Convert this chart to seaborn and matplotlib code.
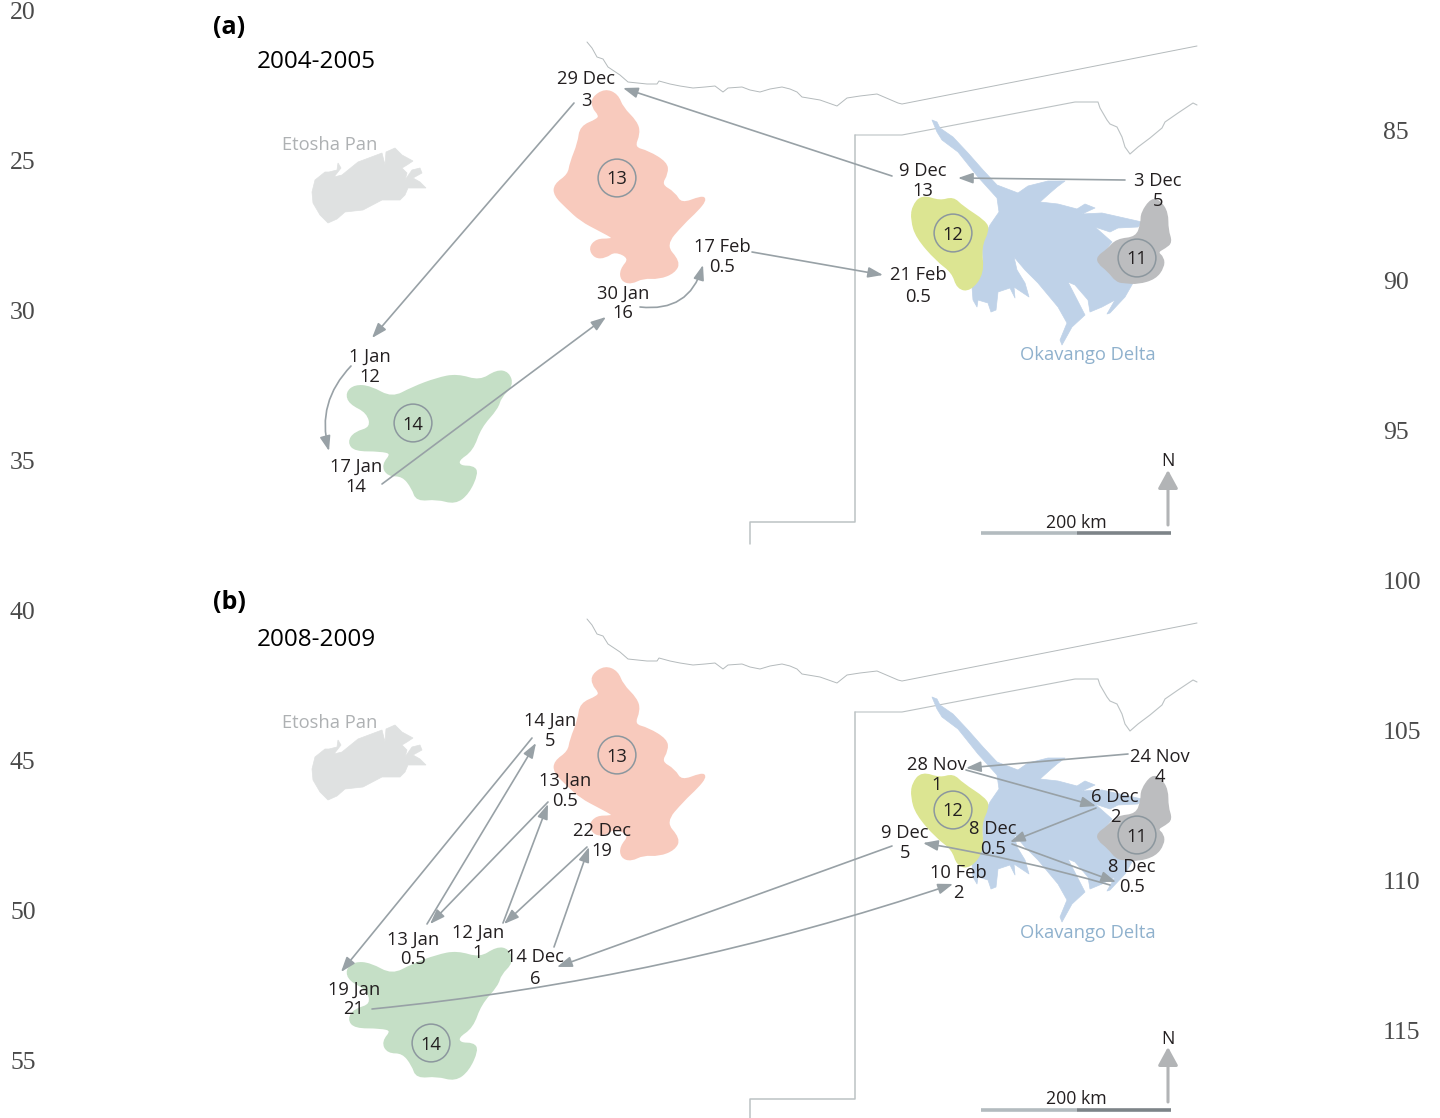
import matplotlib
matplotlib.use('Agg')
import matplotlib.pyplot as plt
import seaborn as sns
import pandas as pd
from matplotlib.patches import FancyArrowPatch, PathPatch, Polygon
from matplotlib.path import Path

# map outlines, in panel (a) pixel coordinates
range_13 = [(593,98),(605,90),(617,95),(622,108),(636,122),(639,133),(633,148),(648,152),(666,163),(667,173),
            (660,185),(674,193),(681,205),(702,197),(705,200),(697,210),(683,223),(664,245),(679,262),(674,272),
            (659,278),(643,277),(631,283),(622,280),(621,270),(631,258),(615,250),(605,257),(595,257),(590,248),
            (597,240),(610,240),(615,238),(600,230),(581,220),(567,207),(555,195),(555,185),(569,175),(571,163),
            (579,143),(581,127),(598,120),(600,115),(593,107)]
range_14 = [(347,393),(355,386),(370,387),(392,399),(413,388),(437,379),(457,375),(480,382),(497,371),(508,373),
            (512,385),(500,397),(497,408),(480,427),(472,450),(457,460),(460,467),(473,467),(477,473),(468,493),
            (455,503),(437,498),(417,500),(413,488),(403,475),(388,475),(383,465),(393,453),(380,450),(355,450),
            (349,442),(355,433),(372,428),(368,412),(350,403)]
range_12 = [(913,207),(922,196),(940,202),(953,198),(962,207),(985,222),(988,230),(980,247),(983,273),(970,290),
            (958,288),(953,272),(937,260),(917,237),(912,220)]
range_11 = [(1152,199),(1160,202),(1167,213),(1167,230),(1171,242),(1165,247),(1156,252),(1163,258),(1163,267),
            (1155,278),(1138,283),(1125,282),(1117,281),(1108,270),(1099,263),(1098,257),(1108,250),(1117,240),
            (1137,238),(1142,223),(1142,213)]
delta = [(932,120),(937,122),(940,128),(953,137),(968,153),(983,170),(997,185),(1018,193),(1028,186),(1048,181),
         (1065,181),(1057,187),(1050,193),(1040,202),(1058,204),(1077,209),(1085,204),(1095,208),(1082,214),
         (1102,213),(1142,222),(1138,227),(1118,228),(1110,232),(1095,227),(1112,242),(1098,260),(1112,277),
         (1133,283),(1125,297),(1110,313),(1107,314),(1115,300),(1102,307),(1090,312),(1088,300),(1075,285),
         (1068,282),(1085,315),(1072,327),(1062,345),(1060,340),(1067,323),(1058,307),(1038,283),(1025,270),
         (1014,257),(1017,270),(1025,283),(1029,297),(1023,293),(1014,287),(1015,298),(1010,288),(998,292),
         (996,310),(991,312),(988,303),(978,300),(977,307),(973,300),(972,287),(983,260),(982,242),(990,225),
         (999,212),(997,198),(978,177),(958,152),(942,140),(937,132)]
etosha = [(312,192),(315,180),(325,172),(329,172),(337,170),(338,163),(341,168),(334,177),(342,175),(358,162),
          (382,153),(385,165),(386,152),(395,148),(402,155),(413,161),(407,165),(402,168),(407,173),(405,180),
          (412,170),(420,168),(422,173),(413,178),(420,182),(426,188),(418,188),(408,188),(405,195),(400,200),
          (382,200),(363,210),(345,212),(337,219),(328,223),(320,215),(313,203)]

border_north = [(587,42),(592,48),(597,57),(603,59),(608,67),(620,75),(628,82),(647,84),(657,84),(659,81),(670,84),
                (680,86),(693,88),(705,87),(715,86),(723,92),(728,88),(742,87),(750,90),(760,92),(770,89),(782,87),
                (790,89),(797,92),(802,97),(820,100),(837,106),(847,98),(860,96),(877,94),(898,103),(902,104),(1197,46)]
border_south = [(855,135),(902,135),(1075,102),(1098,102),(1100,108),(1107,120),(1110,124),(1117,127),(1122,137),
                (1125,147),(1130,154),(1138,147),(1150,138),(1162,128),(1165,122),(1178,113),(1190,105),(1193,103),
                (1197,105)]
border_west = [(855,135),(855,522),(750,522),(750,544)]

# movement arrows: start x, start y, end x, end y, curvature
arrows_a = [(574,103,372,338,0),(892,176,623,88,0),(1125,180,958,178,0),(752,252,883,275,0),
            (640,307,703,265,0.42),(351,366,329,451,0.28),(382,484,606,317,0)]
arrows_b = [(532,738,341,972,0),(427,924,536,743,0),(548,802,430,924,0),(503,923,548,804,0),
            (587,847,504,924,0),(554,947,589,847,0),(892,846,557,967,0),(372,1009,953,884,0.057),
            (1128,754,966,768,0),(966,770,1096,806,0),(1096,808,1010,842,0),(1012,844,1116,882,0),
            (1110,885,923,843,0.03)]

# stopover labels: date, days, x, y of date line, y of days line
stops_a = [('29 Dec','3',586,78,99),('9 Dec','13',923,169,189),('3 Dec','5',1158,180,200),('17 Feb','0.5',722,246,266),
           ('21 Feb','0.5',918,274,295),('30 Jan','16',623,292,312),('1 Jan','12',370,355,375),('17 Jan','14',356,465,485)]
stops_b = [('14 Jan','5',550,719,739),('13 Jan','0.5',565,779,799),('22 Dec','19',602,830,850),('13 Jan','0.5',413,938,958),
           ('12 Jan','1',478,931,951),('14 Dec','6',535,956,977),('19 Jan','21',354,988,1008),('28 Nov','1',937,763,783),
           ('24 Nov','4',1160,755,775),('6 Dec','2',1115,795,815),('8 Dec','0.5',993,827,847),('9 Dec','5',905,832,852),
           ('8 Dec','0.5',1132,866,886),('10 Feb','2',958,872,892)]

# range centres: label, x, y
centres_a = [('13',617,178),('12',953,233),('11',1137,258),('14',413,423)]
centres_b = [('13',617,755),('12',953,810),('11',1137,835),('14',431,1043)]

# page numbers down both margins
left_nums = ['20','25','30','35','40','45','50','55']
left_ys = [10,160,310,460,610,760,910,1060]
right_nums = ['85','90','95','100','105','110','115']
right_ys = [130,280,430,580,730,880,1030]

panel_offset = 577
text_col = '#231f20'
arrow_col = '#98a1a6'
label_size = 13.2
text_nudge = 1.5  # va='center' sits a little high in this font
sns.set_theme(style='white')
plt.rcParams['font.family'] = ['Open Sans', 'DejaVu Sans']

fig = plt.figure(figsize=(14.4, 11.18), dpi=100)
ax = fig.add_axes([0, 0, 1, 1])


def smooth_blob(points, dy, color):
    # closed quadratic spline through the edge midpoints
    pts = [(x, y + dy) for x, y in points]
    mids = [((pts[i][0] + pts[(i + 1) % len(pts)][0]) / 2, (pts[i][1] + pts[(i + 1) % len(pts)][1]) / 2)
            for i in range(len(pts))]
    verts = [mids[-1]]
    codes = [Path.MOVETO]
    for i in range(len(pts)):
        verts += [pts[i], mids[i]]
        codes += [Path.CURVE3, Path.CURVE3]
    ax.add_patch(PathPatch(Path(verts, codes), facecolor=color, edgecolor=color, lw=2, zorder=2))


def draw_border(points, dy, lw, color):
    df = pd.DataFrame(points, columns=['x', 'y'])
    df['y'] += dy
    sns.lineplot(data=df, x='x', y='y', sort=False, estimator=None, color=color, lw=lw, ax=ax, zorder=1)


def label(x, y, s, size=label_size, color=text_col, **kw):
    ax.text(x, y + text_nudge, s, ha='center', va='center', fontsize=size, color=color, zorder=5, **kw)


def draw_panel(dy, letter, years, arrows, stops, centres):
    draw_border(border_north, dy, 0.7, '#b4babc')
    draw_border(border_south, dy, 0.8, '#bcc2c4')
    draw_border(border_west, dy, 1.1, '#bcc2c4')

    ax.add_patch(Polygon([(x, y + dy) for x, y in etosha], facecolor='#dfe1e1', edgecolor='#dfe1e1', lw=0.5, zorder=2))
    ax.add_patch(Polygon([(x, y + dy) for x, y in delta], facecolor='#bfd2e8', edgecolor='#bfd2e8', lw=0.5,
                         joinstyle='round', zorder=2))
    smooth_blob(range_13, dy, '#f8cabd')
    smooth_blob(range_14, dy, '#c5dfc6')
    smooth_blob(range_12, dy, '#dce592')
    smooth_blob(range_11, dy, '#bcbdbf')

    centre_df = pd.DataFrame(centres, columns=['label', 'x', 'y'])
    sns.scatterplot(data=centre_df, x='x', y='y', s=740, facecolor='none', edgecolor='#8c979e', linewidth=1.1,
                    legend=False, ax=ax, zorder=3)
    for name, x, y in centres:
        label(x, y, name)

    for x0, y0, x1, y1, rad in arrows:
        ax.add_patch(FancyArrowPatch((x0, y0), (x1, y1), connectionstyle=f'arc3,rad={rad}',
                                     arrowstyle='-|>,head_length=9,head_width=3.2', mutation_scale=1,
                                     shrinkA=0, shrinkB=0, color=arrow_col, lw=1.2, zorder=4))

    for date, days, x, y_date, y_days in stops:
        label(x, y_date, date)
        label(x, y_days, days)

    label(229, 26 + dy - 2 * (dy > 0), letter, size=18, color='black', fontweight='bold')
    label(316, 61 + dy, years, size=17.5, color='black')
    label(330, 144 + dy, 'Etosha Pan', color='#aeb1b3')
    label(1088, 354 + dy, 'Okavango Delta', color='#8fb1cd')

    # scale bar and north arrow
    ax.plot([981, 1077], [533 + dy, 533 + dy], color='#b3bbbf', lw=2.6, solid_capstyle='butt')
    ax.plot([1077, 1171], [533 + dy, 533 + dy], color='#7d8488', lw=2.6, solid_capstyle='butt')
    label(1076, 521 + dy, '200 km', size=12.8)
    label(1168, 460 + dy, 'N', size=12.8)
    ax.add_patch(FancyArrowPatch((1168, 525 + dy), (1168, 470 + dy), arrowstyle='-|>,head_length=11,head_width=6',
                                 mutation_scale=1, shrinkA=0, shrinkB=0, color='#b2b4b6', lw=2.2, zorder=4))


draw_panel(0, '(a)', '2004-2005', arrows_a, stops_a, centres_a)
draw_panel(panel_offset, '(b)', '2008-2009', arrows_b, stops_b, centres_b)

for num, y in zip(left_nums, left_ys):
    ax.text(10, y + 3, num, ha='left', va='center', fontsize=18.5, color='#4a4a4a', family='Liberation Serif')
for num, y in zip(right_nums, right_ys):
    ax.text(1383, y + 3, num, ha='left', va='center', fontsize=18.5, color='#4a4a4a', family='Liberation Serif')

ax.set_xlim(0, 1440)
ax.set_ylim(1118, 0)
ax.axis('off')

fig.savefig('out.png', dpi=100)
